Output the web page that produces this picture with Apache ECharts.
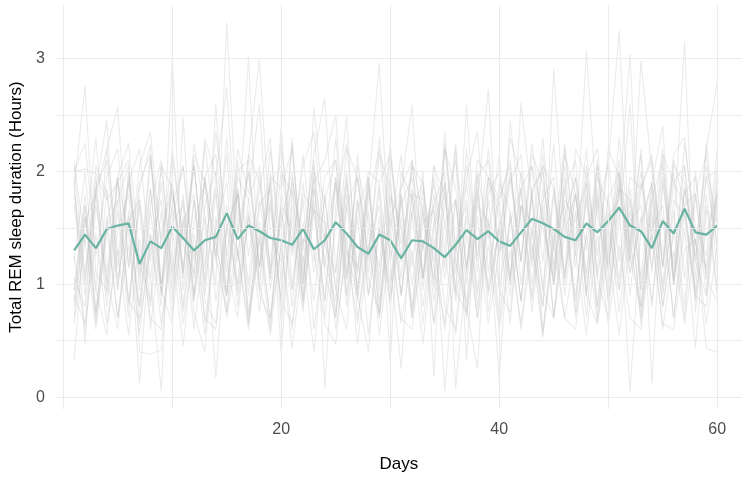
<!DOCTYPE html>
<html>
<head>
<meta charset="utf-8">
<script src="https://cdn.jsdelivr.net/npm/echarts@6/dist/echarts.min.js"></script>
<style>
html,body{margin:0;padding:0;background:#fff;}
#chart{width:750px;height:478px;}
</style>
</head>
<body>
<div id="chart"></div>
<script>
const days = [1,2,3,4,5,6,7,8,9,10,11,12,13,14,15,16,17,18,19,20,21,22,23,24,25,26,27,28,29,30,
31,32,33,34,35,36,37,38,39,40,41,42,43,44,45,46,47,48,49,50,51,52,53,54,55,56,57,58,59,60];

const xTickLabels = [20, 40, 60];
const yTickLabels = [0, 1, 2, 3];
const xGridValues = [0, 10, 20, 30, 40, 50, 60];
const yGridValues = [0, 0.5, 1, 1.5, 2, 2.5, 3];

// mean REM sleep (teal line)
const meanRem = [1.30,1.44,1.32,1.49,1.52,1.54,1.18,1.38,1.32,1.51,
1.41,1.30,1.39,1.42,1.63,1.40,1.52,1.47,1.41,1.39,
1.35,1.49,1.31,1.39,1.55,1.45,1.33,1.27,1.44,1.39,
1.23,1.39,1.38,1.32,1.24,1.35,1.48,1.40,1.47,1.38,
1.34,1.46,1.58,1.54,1.49,1.42,1.39,1.54,1.46,1.56,
1.68,1.52,1.47,1.32,1.56,1.45,1.67,1.46,1.44,1.52];

// individual participants (grey lines)
const p01 = [1.85,2.76,1.10,0.95,1.90,1.45,0.80,1.70,2.10,1.05,1.60,0.90,1.95,1.25,2.15,0.95,1.75,2.05,1.10,1.55,2.00,1.05,1.70,0.85,1.95,1.30,0.90,1.85,2.96,1.20,0.25,1.65,1.90,0.95,1.70,2.10,1.15,1.80,0.95,1.50,1.95,1.20,2.05,1.60,1.00,1.85,1.30,2.20,1.05,1.75,2.00,1.10,1.55,1.90,1.15,2.10,1.70,0.95,1.95,1.35];
const p02 = [0.85,1.70,0.70,1.85,1.05,1.60,0.12,1.45,0.80,3.01,0.95,1.75,0.65,1.50,1.90,0.80,1.60,1.00,0.60,1.80,1.40,0.75,1.85,1.20,0.85,1.95,0.70,1.35,1.70,0.85,1.60,0.80,1.85,1.15,0.65,1.75,1.00,1.95,0.75,1.55,0.90,1.70,1.35,0.80,2.91,1.50,0.85,1.80,1.05,0.70,1.85,1.10,1.60,0.80,1.95,1.00,1.70,0.90,1.45,1.80];
const p03 = [2.05,1.10,1.80,2.20,1.25,1.95,0.95,2.10,1.40,1.85,1.05,2.25,1.60,1.00,3.32,1.45,2.00,1.15,2.20,1.30,1.90,1.35,2.10,0.08,1.70,2.25,1.10,1.95,0.95,2.15,1.35,1.85,1.05,2.05,1.55,0.90,2.20,1.25,1.95,1.60,1.05,2.00,1.40,2.30,1.15,1.85,2.10,0.95,1.70,2.05,3.25,1.20,1.90,1.45,2.20,1.05,1.85,1.35,2.05,1.55];
const p04 = [0.70,1.60,0.95,0.55,1.50,1.80,0.65,1.30,1.75,0.85,1.55,0.60,1.40,1.85,0.75,1.45,3.02,0.90,0.70,1.65,0.95,1.75,0.60,1.40,1.90,0.80,1.60,0.55,1.50,0.95,1.80,0.70,1.35,1.70,0.05,1.30,1.75,0.80,1.55,0.65,1.60,0.85,1.80,0.60,1.40,1.70,0.75,1.90,0.70,1.50,0.95,1.75,0.65,1.60,0.80,1.45,3.15,0.75,1.70,0.90];
const p05 = [2.10,1.35,2.30,1.10,1.95,2.25,1.25,1.05,0.05,2.20,1.40,2.05,1.15,2.35,1.50,1.00,2.15,2.99,1.45,1.20,2.25,1.10,1.95,1.35,2.30,1.05,2.05,1.55,1.15,2.25,1.20,2.10,1.60,1.05,2.20,1.30,1.95,2.35,1.10,1.75,2.05,1.20,2.25,1.50,1.05,2.20,1.35,3.07,1.60,1.15,2.30,1.40,2.15,1.10,2.05,1.05,2.25,1.50,1.25,2.20];
const p06 = [0.95,1.80,0.75,1.55,1.95,0.85,1.70,0.60,1.45,1.90,0.80,1.75,1.05,2.60,1.20,0.70,1.65,0.95,2.00,0.65,1.60,0.85,1.85,1.10,0.70,1.70,1.95,0.90,1.50,0.80,1.80,1.00,1.65,0.65,1.90,1.20,0.85,1.75,2.73,0.95,1.55,1.85,0.75,1.60,1.00,1.95,0.70,1.45,1.80,0.85,1.70,0.05,1.50,1.90,0.95,1.65,0.80,2.00,1.05,1.75];
const p07 = [1.20,2.00,0.95,2.20,2.57,1.15,1.90,2.15,1.00,1.70,2.05,1.05,2.25,1.35,0.90,2.10,1.25,1.85,2.30,1.00,1.95,1.30,2.15,2.65,1.10,2.00,0.95,1.75,2.20,1.20,1.85,2.10,1.05,1.95,1.30,2.25,1.10,2.00,1.40,2.15,1.00,1.85,2.05,1.20,2.25,1.05,1.95,1.30,2.10,1.15,2.00,1.35,2.20,0.12,1.90,1.15,2.05,1.05,2.25,1.30];
const p08 = [1.05,0.80,1.85,2.45,0.95,1.90,1.20,0.85,2.05,1.10,1.75,0.90,1.95,1.25,0.75,1.85,1.00,2.00,0.95,1.70,0.80,1.90,1.10,1.75,2.10,0.90,1.65,1.95,0.85,1.60,1.85,2.59,1.05,1.70,2.00,0.08,1.15,1.85,0.95,1.90,1.65,0.85,1.80,2.05,1.00,1.60,1.95,0.90,1.85,1.10,1.90,1.25,0.80,1.75,2.10,1.00,1.85,1.20,0.90,1.95];
const p09 = [0.90,0.65,1.70,1.05,0.60,1.65,0.80,1.85,0.95,0.65,2.48,0.85,1.60,0.17,1.50,1.80,0.70,1.40,1.70,0.85,0.65,1.55,0.85,1.80,0.95,0.60,1.75,1.05,0.75,1.85,0.90,1.65,0.65,1.50,1.80,0.85,1.60,0.70,1.75,0.95,0.75,1.70,1.00,1.85,0.70,1.45,1.80,0.90,0.65,1.60,1.75,3.04,0.95,1.65,0.80,1.50,0.70,1.80,1.05,0.85];
const p10 = [2.00,2.25,1.25,1.95,2.20,1.15,2.05,2.35,1.30,2.15,1.35,1.10,2.30,1.95,2.75,1.20,2.15,1.90,1.15,2.25,1.30,2.05,2.35,1.35,1.10,2.20,1.95,1.20,2.30,1.45,2.15,1.15,2.00,0.18,2.25,1.35,2.05,1.20,2.20,1.30,2.30,1.95,1.15,2.15,1.35,2.25,1.25,2.05,1.10,2.20,1.95,1.20,2.98,2.00,1.25,2.15,2.30,1.35,1.15,2.05];
const p11 = [0.32,1.55,1.80,0.80,1.65,0.70,1.85,2.23,0.90,1.70,0.75,1.55,1.90,0.85,1.50,1.80,0.65,1.70,1.85,0.80,1.70,0.90,2.57,1.55,0.75,1.80,0.95,1.90,0.70,1.65,0.90,1.80,0.80,1.55,1.90,0.95,0.75,1.70,1.55,0.15,1.65,0.85,1.85,0.95,0.70,1.75,1.55,1.90,0.80,1.80,0.95,1.65,0.75,1.85,0.90,1.75,1.60,0.85,1.80,0.95];
const p12 = [1.85,1.05,2.05,1.80,0.95,2.00,1.10,2.15,1.00,1.85,1.15,2.10,0.90,1.95,1.10,2.20,1.80,2.60,1.05,2.00,1.80,1.00,2.05,1.15,1.95,0.90,2.15,1.10,1.90,0.32,2.00,1.75,1.05,2.05,1.80,0.95,2.59,1.10,1.95,1.75,2.10,1.00,1.85,2.00,1.10,2.15,1.80,1.05,2.05,1.15,1.95,0.90,1.85,2.10,1.15,2.00,1.05,1.80,2.15,1.10];
const p13 = [1.70,0.90,1.85,1.00,1.95,0.80,1.75,1.05,1.90,0.95,1.80,0.85,1.70,2.00,0.95,1.85,0.90,1.75,1.05,2.40,0.95,1.80,1.65,0.85,1.90,1.05,1.75,0.90,1.85,1.00,1.70,1.95,0.95,1.80,1.05,1.75,0.80,0.25,1.90,1.70,1.00,2.61,1.75,0.95,1.85,1.05,1.80,0.90,1.95,1.70,1.05,1.85,0.95,1.75,1.00,1.90,1.70,1.80,0.90,1.85];
const p14 = [1.95,0.47,1.85,2.10,1.15,1.90,2.20,1.20,2.05,1.85,1.10,2.15,1.90,1.20,2.30,1.25,2.00,1.15,1.95,1.85,2.20,1.20,1.90,2.10,2.50,1.10,1.95,1.25,2.15,1.85,1.05,2.05,1.90,1.20,2.20,1.85,1.15,2.10,1.95,1.25,1.90,2.15,1.20,2.05,1.85,1.10,2.20,1.95,1.25,2.10,1.20,1.95,1.85,2.15,1.15,2.05,1.90,1.25,2.20,2.79];
const p15 = [0.80,1.60,0.65,1.50,1.75,0.85,0.70,1.65,0.90,1.55,1.70,0.75,0.40,1.60,0.90,1.80,0.75,1.55,0.65,1.70,1.50,0.85,1.75,0.70,1.55,2.50,0.85,1.65,0.75,1.80,1.50,0.70,1.70,0.85,1.55,1.75,0.75,1.60,0.90,1.50,0.65,1.70,1.55,0.80,1.80,0.90,1.65,0.70,1.75,0.85,1.55,2.60,0.80,1.50,1.70,0.70,1.65,0.90,0.80,1.75];
const p16 = [1.80,1.00,1.95,0.90,1.75,2.05,1.05,1.85,0.95,1.90,1.10,2.05,1.00,1.80,0.90,1.95,1.75,1.05,1.90,0.38,1.85,1.00,2.00,1.75,0.95,1.90,1.10,1.85,1.05,1.95,0.90,1.80,1.75,1.00,2.35,1.10,1.90,0.95,1.80,2.00,1.05,1.85,0.90,1.75,1.95,1.00,1.80,1.10,2.05,0.95,1.85,1.75,1.05,1.90,2.40,1.00,1.80,1.95,1.10,1.85];
const p17 = [0.95,1.70,0.75,1.60,0.70,1.55,1.75,0.80,1.65,0.70,1.55,1.80,0.85,0.65,1.70,0.90,1.60,0.75,1.75,0.85,2.30,0.80,1.65,1.55,0.70,1.70,0.90,0.40,1.60,0.85,1.75,0.75,1.55,1.65,0.80,0.60,1.70,0.90,1.60,0.75,2.45,1.55,0.85,1.70,0.70,1.60,0.90,1.75,0.80,1.65,0.75,1.55,1.70,0.85,1.60,0.70,1.50,0.43,1.65,1.55];
const p18 = [2.00,2.02,1.98,1.75,1.90,2.10,0.40,0.38,0.42,1.55,2.05,1.20,1.95,2.15,1.25,2.00,2.10,1.15,1.90,2.05,1.25,2.15,1.20,1.95,2.10,1.30,1.15,2.00,1.90,2.15,1.20,2.05,1.30,1.90,1.15,2.20,0.32,1.95,2.10,1.25,2.00,1.20,2.15,1.90,1.30,2.05,1.15,1.95,2.20,1.25,2.10,1.30,2.00,1.15,2.15,1.90,2.05,1.20,1.95,2.00];
const p19 = [1.25,0.60,1.45,0.65,1.30,0.55,1.40,0.70,0.60,1.50,0.65,1.35,0.55,1.45,0.70,1.30,0.60,1.40,0.55,1.35,0.43,1.25,0.40,1.45,0.60,1.30,0.65,1.50,0.55,1.35,0.70,0.60,1.40,0.65,1.30,0.55,1.45,0.70,1.35,0.60,1.30,0.65,1.50,0.55,1.35,0.70,0.60,1.45,0.65,1.30,0.55,1.40,0.70,1.45,0.60,1.30,0.65,1.40,0.43,0.40];
const p20 = [0.65,1.40,0.60,1.50,0.70,1.35,0.55,1.45,0.65,1.30,0.45,1.45,0.70,0.60,1.50,1.30,0.65,1.45,0.70,1.35,0.60,1.40,1.30,0.65,0.47,1.45,0.47,1.35,0.70,1.50,0.65,1.30,0.47,1.40,0.60,1.35,0.70,1.45,0.65,1.30,1.40,0.60,1.35,0.53,1.50,0.70,1.30,0.55,1.45,0.65,1.35,0.70,0.60,1.45,0.65,0.60,1.30,1.40,0.65,1.35];

const participants = [p01,p02,p03,p04,p05,p06,p07,p08,p09,p10,p11,p12,p13,p14,p15,p16,p17,p18,p19,p20];

const FONT = '"Liberation Sans", Arial, Helvetica, sans-serif';
const GRID_COLOR = '#ebebeb';

function pairs(vals) { return days.map((d, i) => [d, vals[i]]); }

const gridSeries = {
  type: 'line',
  data: [],
  z: 1,
  silent: true,
  markLine: {
    silent: true,
    symbol: ['none', 'none'],
    label: { show: false },
    animation: false,
    data: xGridValues.map(v => ({ xAxis: v, lineStyle: { color: GRID_COLOR, width: 1.1, type: 'solid' } }))
      .concat(yGridValues.map(v => ({ yAxis: v, lineStyle: { color: GRID_COLOR, width: (v % 1 === 0) ? 1.1 : 0.9, type: 'solid' } })))
  }
};

const greySeries = participants.map(p => ({
  type: 'line',
  data: pairs(p),
  showSymbol: false,
  symbol: 'none',
  z: 2,
  silent: true,
  lineStyle: { color: 'rgba(190,190,190,0.3)', width: 1.1 }
}));

const meanSeries = {
  type: 'line',
  data: pairs(meanRem),
  showSymbol: false,
  symbol: 'none',
  z: 3,
  lineStyle: { color: '#69b3a2', width: 2.2 }
};

const chart = echarts.init(document.getElementById('chart'), null, { renderer: 'canvas' });
chart.setOption({
  animation: false,
  backgroundColor: '#ffffff',
  grid: { left: 52, right: 8, top: 5, bottom: 65, containLabel: false },
  xAxis: {
    type: 'value',
    min: -0.68,
    max: 62.27,
    name: 'Days',
    nameLocation: 'middle',
    nameGap: 47,
    nameTextStyle: { fontFamily: FONT, fontSize: 17, color: '#000000' },
    axisLine: { show: false },
    axisTick: { show: false },
    splitLine: { show: false },
    axisLabel: {
      customValues: xTickLabels,
      fontFamily: FONT, fontSize: 16, color: '#4d4d4d', margin: 13
    }
  },
  yAxis: {
    type: 'value',
    min: -0.105,
    max: 3.474,
    name: 'Total REM sleep duration (Hours)',
    nameLocation: 'middle',
    nameGap: 27,
    nameRotate: 90,
    nameTextStyle: { fontFamily: FONT, fontSize: 17, color: '#000000' },
    axisLine: { show: false },
    axisTick: { show: false },
    splitLine: { show: false },
    axisLabel: {
      customValues: yTickLabels,
      fontFamily: FONT, fontSize: 16, color: '#4d4d4d', margin: 11
    }
  },
  series: [gridSeries].concat(greySeries, [meanSeries])
});
</script>
</body>
</html>
